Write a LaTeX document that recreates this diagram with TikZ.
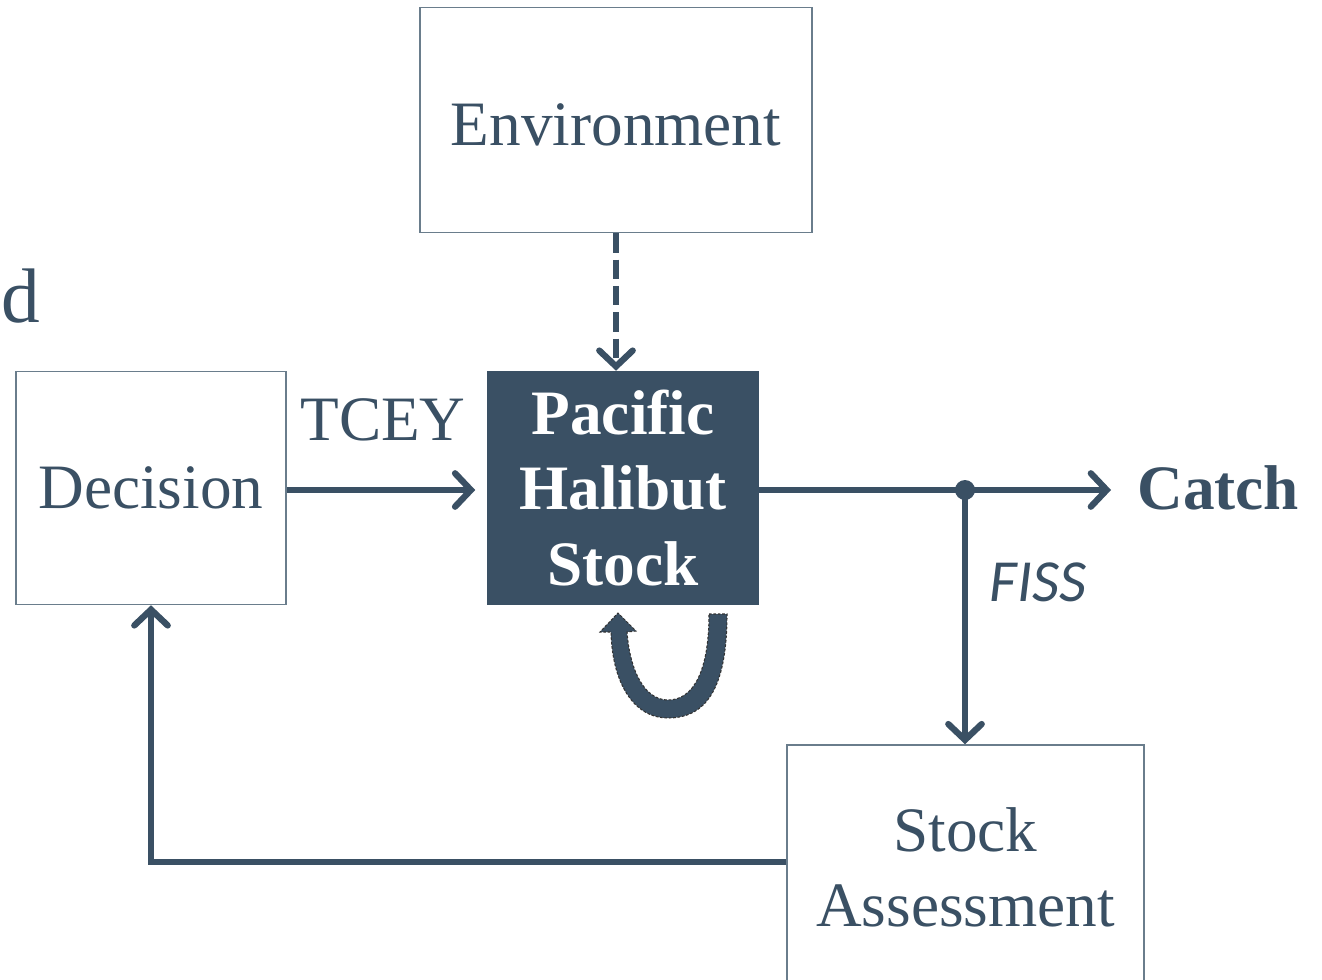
\documentclass[tikz,border=0pt]{standalone}
\usepackage{fontspec}
\setmainfont{Liberation Serif}
\newfontfamily\fissfont{Carlito}
\usepackage{tikz}
\usetikzlibrary{arrows.meta,positioning,calc}
\usepackage{xcolor}
\definecolor{halblue}{HTML}{3A5064}
\definecolor{halgrey}{HTML}{6A7D8C}

\begin{document}
\begin{tikzpicture}[x=0.02cm, y=-0.02cm,
    box/.style={rectangle, draw=halgrey, line width=0.9pt, fill=white, inner sep=0pt,
                align=center, text=halblue, font=\fontsize{36}{43}\selectfont},
    stockbox/.style={box, draw=halblue, fill=halblue, text=white, font=\fontsize{36}{43}\selectfont\bfseries},
    lbl/.style={inner sep=0pt, text=halblue, font=\fontsize{36}{43}\selectfont},
    arr/.style={-{Straight Barb[length=9pt, width=19pt, line cap=round]}, line width=3.6pt, halblue}
]
    \useasboundingbox (0,0) rectangle (1322,980);

    \node[box, minimum width=7.84cm, minimum height=4.5cm] (env) at (616,120) {};
    \node[lbl] (envtext) at (616,125) {Environment};
    \node[box, minimum width=5.4cm, minimum height=4.66cm] (dec) at (151,488) {Decision};
    \node[stockbox, minimum width=5.4cm, minimum height=4.66cm] (stock) at (623,488) {Pacific\\Halibut\\Stock};
    \node[box, minimum width=7.14cm, minimum height=4.9cm] (sa) at (965.5,867.5) {Stock\\Assessment};

    \node[lbl] (tcey) at (383,420) {TCEY};
    \node[lbl, font=\fontsize{36}{43}\selectfont\bfseries, anchor=west] (catch) at (1137,488) {Catch};
    \node[lbl, font=\fontsize{34}{40}\fissfont\itshape] (fiss) at (1038,582) {FISS};
    \node[lbl, font=\fontsize{44}{50}\selectfont, anchor=base east] (cut) at (41,322) {d};

    \coordinate (split) at (965,490);

    \draw[arr] (dec.east |- 0,490) -- ([xshift=-0.24cm]stock.west |- 0,490);
    \draw[arr, dash pattern=on 11pt off 4pt] (env.south) -- (env.south |- stock.north);
    \draw[arr, shorten >=0.52cm] (stock.east |- split) -- (split -| catch.west);
    \fill[halblue] (split) circle (0.2cm);
    \draw[arr] (split) -- (split |- sa.north);
    \draw[arr] ([yshift=0.11cm]sa.west) -| (dec.south);

    % self-renewal loop under the stock
    \draw[fill=halblue, draw=black!80, line width=0.6pt, dash pattern=on 1.5pt off 1pt]
        (709,614) -- (727,614)
        .. controls (727,690) and (705,718) .. (668,718)
        .. controls (632,718) and (612,680) .. (611,632)
        -- (600,632) -- (618,613) -- (636,631) -- (627,632)
        .. controls (630,672) and (645,700) .. (668,700)
        .. controls (694,700) and (709,670) .. cycle;
\end{tikzpicture}
\end{document}
